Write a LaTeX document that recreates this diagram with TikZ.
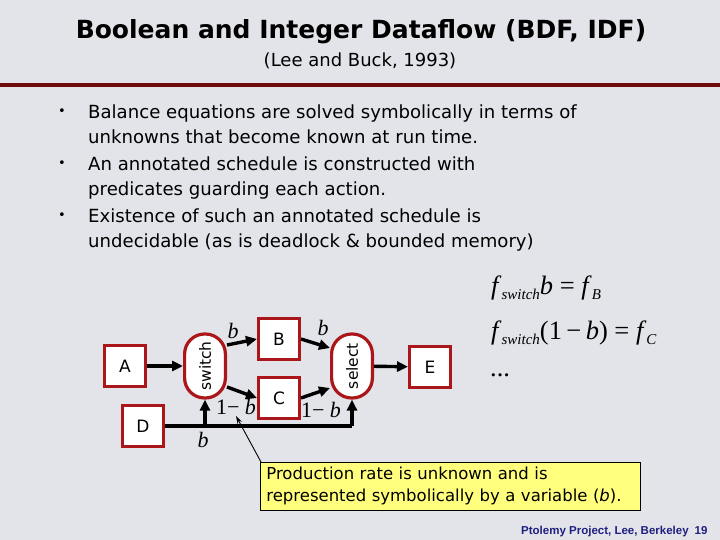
\documentclass[tikz,border=0pt]{standalone}
\usepackage{fontspec}
\setmainfont{DejaVu Sans}
\newfontfamily\timesfont{Liberation Serif}
\newfontfamily\arialfont{Liberation Sans}
\usetikzlibrary{arrows.meta, positioning, calc}

\definecolor{slidebg}{RGB}{227,228,233}
\definecolor{boxred}{RGB}{170,22,26}
\definecolor{rulered}{RGB}{112,10,10}
\definecolor{notefill}{RGB}{255,255,125}
\definecolor{footblue}{RGB}{32,32,128}

% subscript for the rate equations
\newcommand{\eqsub}[1]{\raisebox{-5pt}{\fontsize{15}{15}\selectfont\itshape #1}}

\begin{document}
\begin{tikzpicture}[
    x=1pt, y=-1pt, >={Triangle[length=11pt, width=10pt]},
    actor/.style={draw=boxred, line width=3.2pt, fill=white,
                  minimum width=40.8pt, minimum height=40.5pt, inner sep=0pt,
                  font=\fontsize{17}{17}\selectfont},
    gate/.style={draw=boxred, line width=3.2pt, fill=white,
                 rounded corners=20pt, minimum width=40.8pt,
                 minimum height=64pt, inner sep=0pt,
                 font=\fontsize{15.5}{15.5}\selectfont},
    flow/.style={->, line width=3.4pt},
    rate/.style={font=\timesfont\fontsize{22}{22}\selectfont, inner sep=0pt},
    bullettext/.style={anchor=north west, inner sep=0pt, align=left,
                       font=\fontsize{18.1}{24.5}\selectfont},
    eqn/.style={anchor=base west, inner sep=0pt,
                font=\timesfont\fontsize{26.5}{26.5}\selectfont}
  ]
  \fill[slidebg] (0,0) rectangle (720,540);
  \useasboundingbox (0,0) rectangle (720,540);

  % heading
  \node[font=\bfseries\fontsize{25}{25}\selectfont] (title) at (361,32)
    {Boolean and Integer Dataflow (BDF, IDF)};
  \node[font=\fontsize{18}{18}\selectfont] (cite) at (360,61)
    {(Lee and Buck, 1993)};
  \fill[rulered] (0,83) rectangle (720,87);

  % bullets
  \node[font=\fontsize{13}{13}\selectfont] (dot1) at (62,112) {•};
  \node[font=\fontsize{13}{13}\selectfont] (dot2) at (62,164) {•};
  \node[font=\fontsize{13}{13}\selectfont] (dot3) at (62,216) {•};
  \node[bullettext] (item1) at (88,105)
    {Balance equations are solved symbolically in terms of\\
     unknowns that become known at run time.};
  \node[bullettext] (item2) at (88,157)
    {An annotated schedule is constructed with\\
     predicates guarding each action.};
  \node[bullettext] (item3) at (88,209)
    {Existence of such an annotated schedule is\\
     undecidable (as is deadlock \& bounded memory)};

  % dataflow graph
  \node[actor] (A) at (125,366) {A};
  \node[gate]  (sw) at (205,366) {\rotatebox{90}{switch}};
  \node[actor] (B) at (279,339) {B};
  \node[actor] (C) at (279,398) {C};
  \node[gate]  (sel) at (352,366) {\rotatebox{90}{select}};
  \node[actor] (E) at (430,367) {E};
  \node[actor] (D) at (143,426) {D};

  \draw[flow] (A) -- (sw);
  \draw[flow] ([yshift=21pt]sw.east) -- (B.west);
  \draw[flow] ([yshift=-21pt]sw.east) -- (C.west);
  \draw[flow] (B.east) -- ([yshift=18pt]sel.west);
  \draw[flow] (C.east) -- ([yshift=-22pt]sel.west);
  \draw[flow] (sel) -- (E);
  \draw[line width=3.4pt] (D.east) -- (D.east -| sel.south)
    coordinate (ctlsel);
  \draw[flow] (ctlsel) -- (sel.south);
  \draw[flow] (D.east -| sw.south) coordinate (ctlsw) -- (sw.south);

  \node[rate] (rB) at (233,331) {\textit{b}};
  \node[rate] (rC) at (236,407) {1− \textit{b}};
  \node[rate] (rBs) at (323,328) {\textit{b}};
  \node[rate] (rCs) at (321,410) {1− \textit{b}};
  \node[rate] (rD) at (203,440) {\textit{b}};

  % rate equations
  \node[eqn] (eq1) at (491,294)
    {\textit{f}\eqsub{switch}\textit{b} = \textit{f}\eqsub{B}};
  \node[eqn] (eq2) at (491,339)
    {\textit{f}\eqsub{switch}(1\,−\,\textit{b}) = \textit{f}\eqsub{C}};
  \node[eqn] (eq3) at (490,376) {...};

  % note
  \node[draw=black, line width=0.8pt, fill=notefill, anchor=north west,
        text width=368pt, inner xsep=6pt, minimum height=48pt, align=left,
        font=\fontsize{16.5}{22}\selectfont] (note) at (260,462)
    {Production rate is unknown and is\\
     represented symbolically by a variable (\textit{b}).};
  \draw[-{Stealth[length=8pt, width=5pt]}, line width=0.9pt]
    ([xshift=1pt]note.north west) -- ([yshift=-1pt]rC.south);

  \node[anchor=base east, text=footblue,
        font=\arialfont\bfseries\fontsize{11.5}{11.5}\selectfont] (foot)
    at (711,534) {Ptolemy Project, Lee, Berkeley\hspace{6pt}19};
\end{tikzpicture}
\end{document}
